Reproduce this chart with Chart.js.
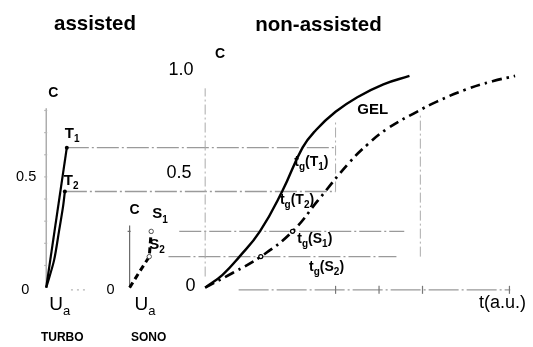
<!DOCTYPE html>
<html>
<head>
<meta charset="utf-8">
<script src="https://cdn.jsdelivr.net/npm/chart.js@4/dist/chart.umd.min.js"></script>
<style>
  html, body { margin: 0; padding: 0; background: #fff; }
  canvas { display: block; }
</style>
</head>
<body>
<canvas id="fig" width="533" height="347"></canvas>
<script>
// Concentration levels C reached by each assisted treatment (T = turbo, S = sono)
const levelNames = ['T1', 'T2', 'S1', 'S2'];
const levelC = [0.632, 0.434, 0.254, 0.14];

// TURBO panel: C versus applied energy U (a.u.)
const turboT1U = [0, 1.0];
const turboT1C = [0, 0.632];
const turboT2U = [0, 0.38, 0.62, 0.82, 0.905];
const turboT2C = [0, 0.123, 0.254, 0.368, 0.434];

// SONO panel: path through S2 up to S1
const sonoU = [0, 0.45, 0.91, 1.0];
const sonoC = [0, 0.07, 0.14, 0.254];

// Non-assisted: C versus time t (a.u.)
const gelT = [0, 0.4, 0.79, 1.26, 1.77, 2.24, 2.55, 3.0, 3.5, 4.1, 4.7];
const gelC = [0, 0.058, 0.14, 0.254, 0.434, 0.632, 0.712, 0.794, 0.86, 0.918, 0.956];
const slowT = [0, 0.63, 1.28, 2.01, 2.6, 3.3, 3.75, 4.2, 4.88, 5.33, 6.0, 6.61, 7.13];
const slowC = [0, 0.066, 0.14, 0.254, 0.395, 0.561, 0.649, 0.719, 0.795, 0.84, 0.895, 0.932, 0.956];

// Time-axis tick marks
const timeTicks = [3, 4, 5, 7];

const pts = (xs, ys) => xs.map((x, i) => ({ x, y: ys[i] }));
const FONT = '"Liberation Sans", Arial, Helvetica, sans-serif';

// Guide lines: each level runs from an assisted panel across to the time axis
const levelStartAxis = ['xTurbo', 'xTurbo', 'xSono', 'xSono'];
const levelStartU = [1.0, 0.905, 2.3, 1.8];
const levelEndT = [3.0, 3.0, 4.58, 4.4];

function seg(ctx, x1, y1, x2, y2) {
  ctx.beginPath(); ctx.moveTo(x1, y1); ctx.lineTo(x2, y2); ctx.stroke();
}

const guides = {
  id: 'guides',
  beforeDatasetsDraw(chart) {
    const { ctx, scales } = chart;
    const X = (id, v) => scales[id].getPixelForValue(v);
    const Y = v => scales.y.getPixelForValue(v);
    ctx.save();
    ctx.lineCap = 'butt';

    // level lines
    ctx.strokeStyle = '#9a9a9a';
    ctx.lineWidth = 1.3;
    ctx.setLineDash([22, 3, 2, 3]);
    levelC.forEach((c, i) => {
      seg(ctx, X(levelStartAxis[i], levelStartU[i]), Y(c), X('xMain', levelEndT[i]), Y(c));
    });

    // vertical guides in the time panel
    ctx.strokeStyle = '#ababab';
    ctx.lineWidth = 1;
    ctx.setLineDash([10, 3, 2, 3]);
    seg(ctx, X('xMain', 0), Y(0.05), X('xMain', 0), Y(0.9));
    seg(ctx, X('xMain', 3), Y(0.434), X('xMain', 3), Y(0.75));
    seg(ctx, X('xMain', 4.95), Y(0.14), X('xMain', 4.95), Y(0.78));

    // time axis with its ticks
    ctx.strokeStyle = '#999';
    ctx.lineWidth = 1.2;
    ctx.setLineDash([30, 3, 2, 3]);
    const ya = Y(-0.01);
    seg(ctx, X('xMain', 0.77), ya, X('xMain', 7.02), ya);
    ctx.setLineDash([]);
    ctx.strokeStyle = '#777';
    timeTicks.forEach(t => seg(ctx, X('xMain', t), ya - 4, X('xMain', t), ya + 4));

    // TURBO concentration axis
    ctx.strokeStyle = '#9a9a9a';
    ctx.lineWidth = 1.2;
    ctx.setLineDash([]);
    seg(ctx, X('xTurbo', 0), Y(0), X('xTurbo', 0), Y(0.81));
    ctx.strokeStyle = '#b5b5b5';
    for (let c = 0.1; c < 0.8; c += 0.1) {
      seg(ctx, X('xTurbo', 0) - 2, Y(c), X('xTurbo', 0) + 1, Y(c));
    }
    ctx.setLineDash([2, 4]);
    seg(ctx, X('xTurbo', 1.2), Y(-0.01), X('xTurbo', 1.9), Y(-0.01));

    // SONO concentration axis
    ctx.setLineDash([]);
    ctx.strokeStyle = '#6a6a6a';
    ctx.lineWidth = 1.2;
    seg(ctx, X('xSono', 0), Y(0), X('xSono', 0), Y(0.28));
    seg(ctx, X('xSono', 0) - 2, Y(0.254), X('xSono', 0) + 1, Y(0.254));
    ctx.restore();
  }
};

// Text with subscripts: parts = [[text, isSub], ...]
function rich(ctx, x, y, parts, size, weight) {
  let cx = x;
  for (const [t, sub] of parts) {
    const s = sub ? Math.round(size * 0.68) : size;
    ctx.font = `${weight} ${s}px ${FONT}`;
    ctx.fillText(t, cx, y + (sub ? size * 0.3 : 0));
    cx += ctx.measureText(t).width;
  }
}

const labels = {
  id: 'labels',
  afterDraw(chart) {
    const { ctx, scales } = chart;
    const X = (id, v) => scales[id].getPixelForValue(v);
    const Y = v => scales.y.getPixelForValue(v);
    ctx.save();
    ctx.fillStyle = '#000';

    // panel titles
    ctx.textBaseline = 'alphabetic';
    ctx.textAlign = 'center';
    ctx.font = `bold 20.5px ${FONT}`;
    ctx.fillText('assisted', 95, 29.5);
    ctx.fillText('non-assisted', 318.5, 30.5);

    // concentration axis titles
    ctx.textBaseline = 'middle';
    ctx.font = `bold 14px ${FONT}`;
    ctx.fillText('C', X('xTurbo', 0) + 7, Y(0.877));
    ctx.fillText('C', X('xSono', 0) + 5, Y(0.351));
    ctx.fillText('C', X('xMain', 0) + 15, Y(1.053));

    // tick labels
    ctx.textAlign = 'right';
    ctx.font = `18px ${FONT}`;
    const xm = X('xMain', -0.27);
    ctx.fillText('1.0', xm, Y(1.0) + 4);
    ctx.fillText('0.5', xm - 2, Y(0.5) - 4);
    ctx.fillText('0', xm + 2, Y(0) - 2);
    ctx.font = `14.5px ${FONT}`;
    ctx.fillText('0.5', X('xTurbo', 0) - 10, Y(0.5));
    ctx.fillText('0', X('xTurbo', 0) - 17, Y(0) + 2);
    ctx.fillText('0', X('xSono', 0) - 15, Y(0) + 2);

    // panel captions
    ctx.textAlign = 'center';
    ctx.font = `bold 12px ${FONT}`;
    ctx.fillText('TURBO', X('xTurbo', 0) + 16, Y(0) + 50.5);
    ctx.fillText('SONO', X('xSono', 0) + 19, Y(0) + 50.5);

    // point labels
    ctx.textAlign = 'left';
    ctx.textBaseline = 'alphabetic';
    rich(ctx, X('xTurbo', 1.0) - 2, Y(levelC[0]) - 10, [['T', 0], ['1', 1]], 15, 'bold');
    rich(ctx, X('xTurbo', 0.905) - 1, Y(levelC[1]) - 7, [['T', 0], ['2', 1]], 15, 'bold');
    rich(ctx, X('xSono', 1.0) + 1, Y(levelC[2]) - 13, [['S', 0], ['1', 1]], 15, 'bold');
    rich(ctx, X('xSono', 0.91), Y(levelC[3]) - 8, [['S', 0], ['2', 1]], 15, 'bold');

    // energy axis labels
    rich(ctx, X('xTurbo', 0) + 3, Y(0) + 22, [['U', 0], ['a', 1]], 19, 'normal');
    rich(ctx, X('xSono', 0) + 5, Y(0) + 22, [['U', 0], ['a', 1]], 19, 'normal');

    // time panel labels
    ctx.font = `bold 15px ${FONT}`;
    ctx.fillText('GEL', X('xMain', 3.5), Y(0.785));
    rich(ctx, X('xMain', 2.05), Y(0.548), [['t', 0], ['g', 1], ['(T', 0], ['1', 1], [')', 0]], 14, 'bold');
    rich(ctx, X('xMain', 1.72), Y(0.377), [['t', 0], ['g', 1], ['(T', 0], ['2', 1], [')', 0]], 14, 'bold');
    rich(ctx, X('xMain', 2.12), Y(0.202), [['t', 0], ['g', 1], ['(S', 0], ['1', 1], [')', 0]], 14, 'bold');
    rich(ctx, X('xMain', 2.39), Y(0.0746), [['t', 0], ['g', 1], ['(S', 0], ['2', 1], [')', 0]], 14, 'bold');
    ctx.font = `18px ${FONT}`;
    ctx.fillText('t(a.u.)', X('xMain', 6.3), Y(-0.092));
    ctx.restore();
  }
};

const endDot = n => ctx => (ctx.dataIndex === n - 1 ? 2 : 0);
const atIdx = (idx, r) => ctx => (idx.includes(ctx.dataIndex) ? r : 0);

new Chart(document.getElementById('fig'), {
  type: 'scatter',
  data: {
    datasets: [
      {
        label: 'T1', xAxisID: 'xTurbo', yAxisID: 'y',
        data: pts(turboT1U, turboT1C), showLine: true,
        borderColor: '#000', borderWidth: 2.2,
        pointRadius: endDot(turboT1U.length), pointBackgroundColor: '#000', pointBorderWidth: 0
      },
      {
        label: 'T2', xAxisID: 'xTurbo', yAxisID: 'y',
        data: pts(turboT2U, turboT2C), showLine: true, tension: 0.3,
        borderColor: '#000', borderWidth: 2.2,
        pointRadius: endDot(turboT2U.length), pointBackgroundColor: '#000', pointBorderWidth: 0
      },
      {
        label: 'SONO', xAxisID: 'xSono', yAxisID: 'y',
        data: pts(sonoU, sonoC), showLine: true,
        borderColor: '#000', borderWidth: 3, borderDash: [6, 4],
        pointRadius: atIdx([2, 3], 2.2), pointBackgroundColor: '#fff',
        pointBorderColor: '#555', pointBorderWidth: 1
      },
      {
        label: 'GEL', xAxisID: 'xMain', yAxisID: 'y',
        data: pts(gelT, gelC), showLine: true, tension: 0.45,
        borderColor: '#000', borderWidth: 2.4, pointRadius: 0
      },
      {
        label: 'non-GEL', xAxisID: 'xMain', yAxisID: 'y',
        data: pts(slowT, slowC), showLine: true, tension: 0.45,
        borderColor: '#000', borderWidth: 2.7, borderDash: [10, 5, 2.5, 5],
        pointRadius: atIdx([2, 3], 2), pointBackgroundColor: '#fff',
        pointBorderColor: '#000', pointBorderWidth: 1.2
      }
    ]
  },
  options: {
    responsive: false,
    animation: false,
    devicePixelRatio: 1,
    layout: { padding: 0 },
    plugins: { legend: { display: false }, tooltip: { enabled: false }, title: { display: false } },
    scales: {
      xTurbo: { type: 'linear', display: false, min: -2, max: 23.381 },
      xSono: { type: 'linear', display: false, min: -5.7727, max: 18.4545 },
      xMain: { type: 'linear', display: false, min: -4.605, max: 7.427 },
      y: { type: 'linear', display: false, min: -0.2456, max: 1.2763 }
    }
  },
  plugins: [guides, labels]
});
</script>
</body>
</html>
